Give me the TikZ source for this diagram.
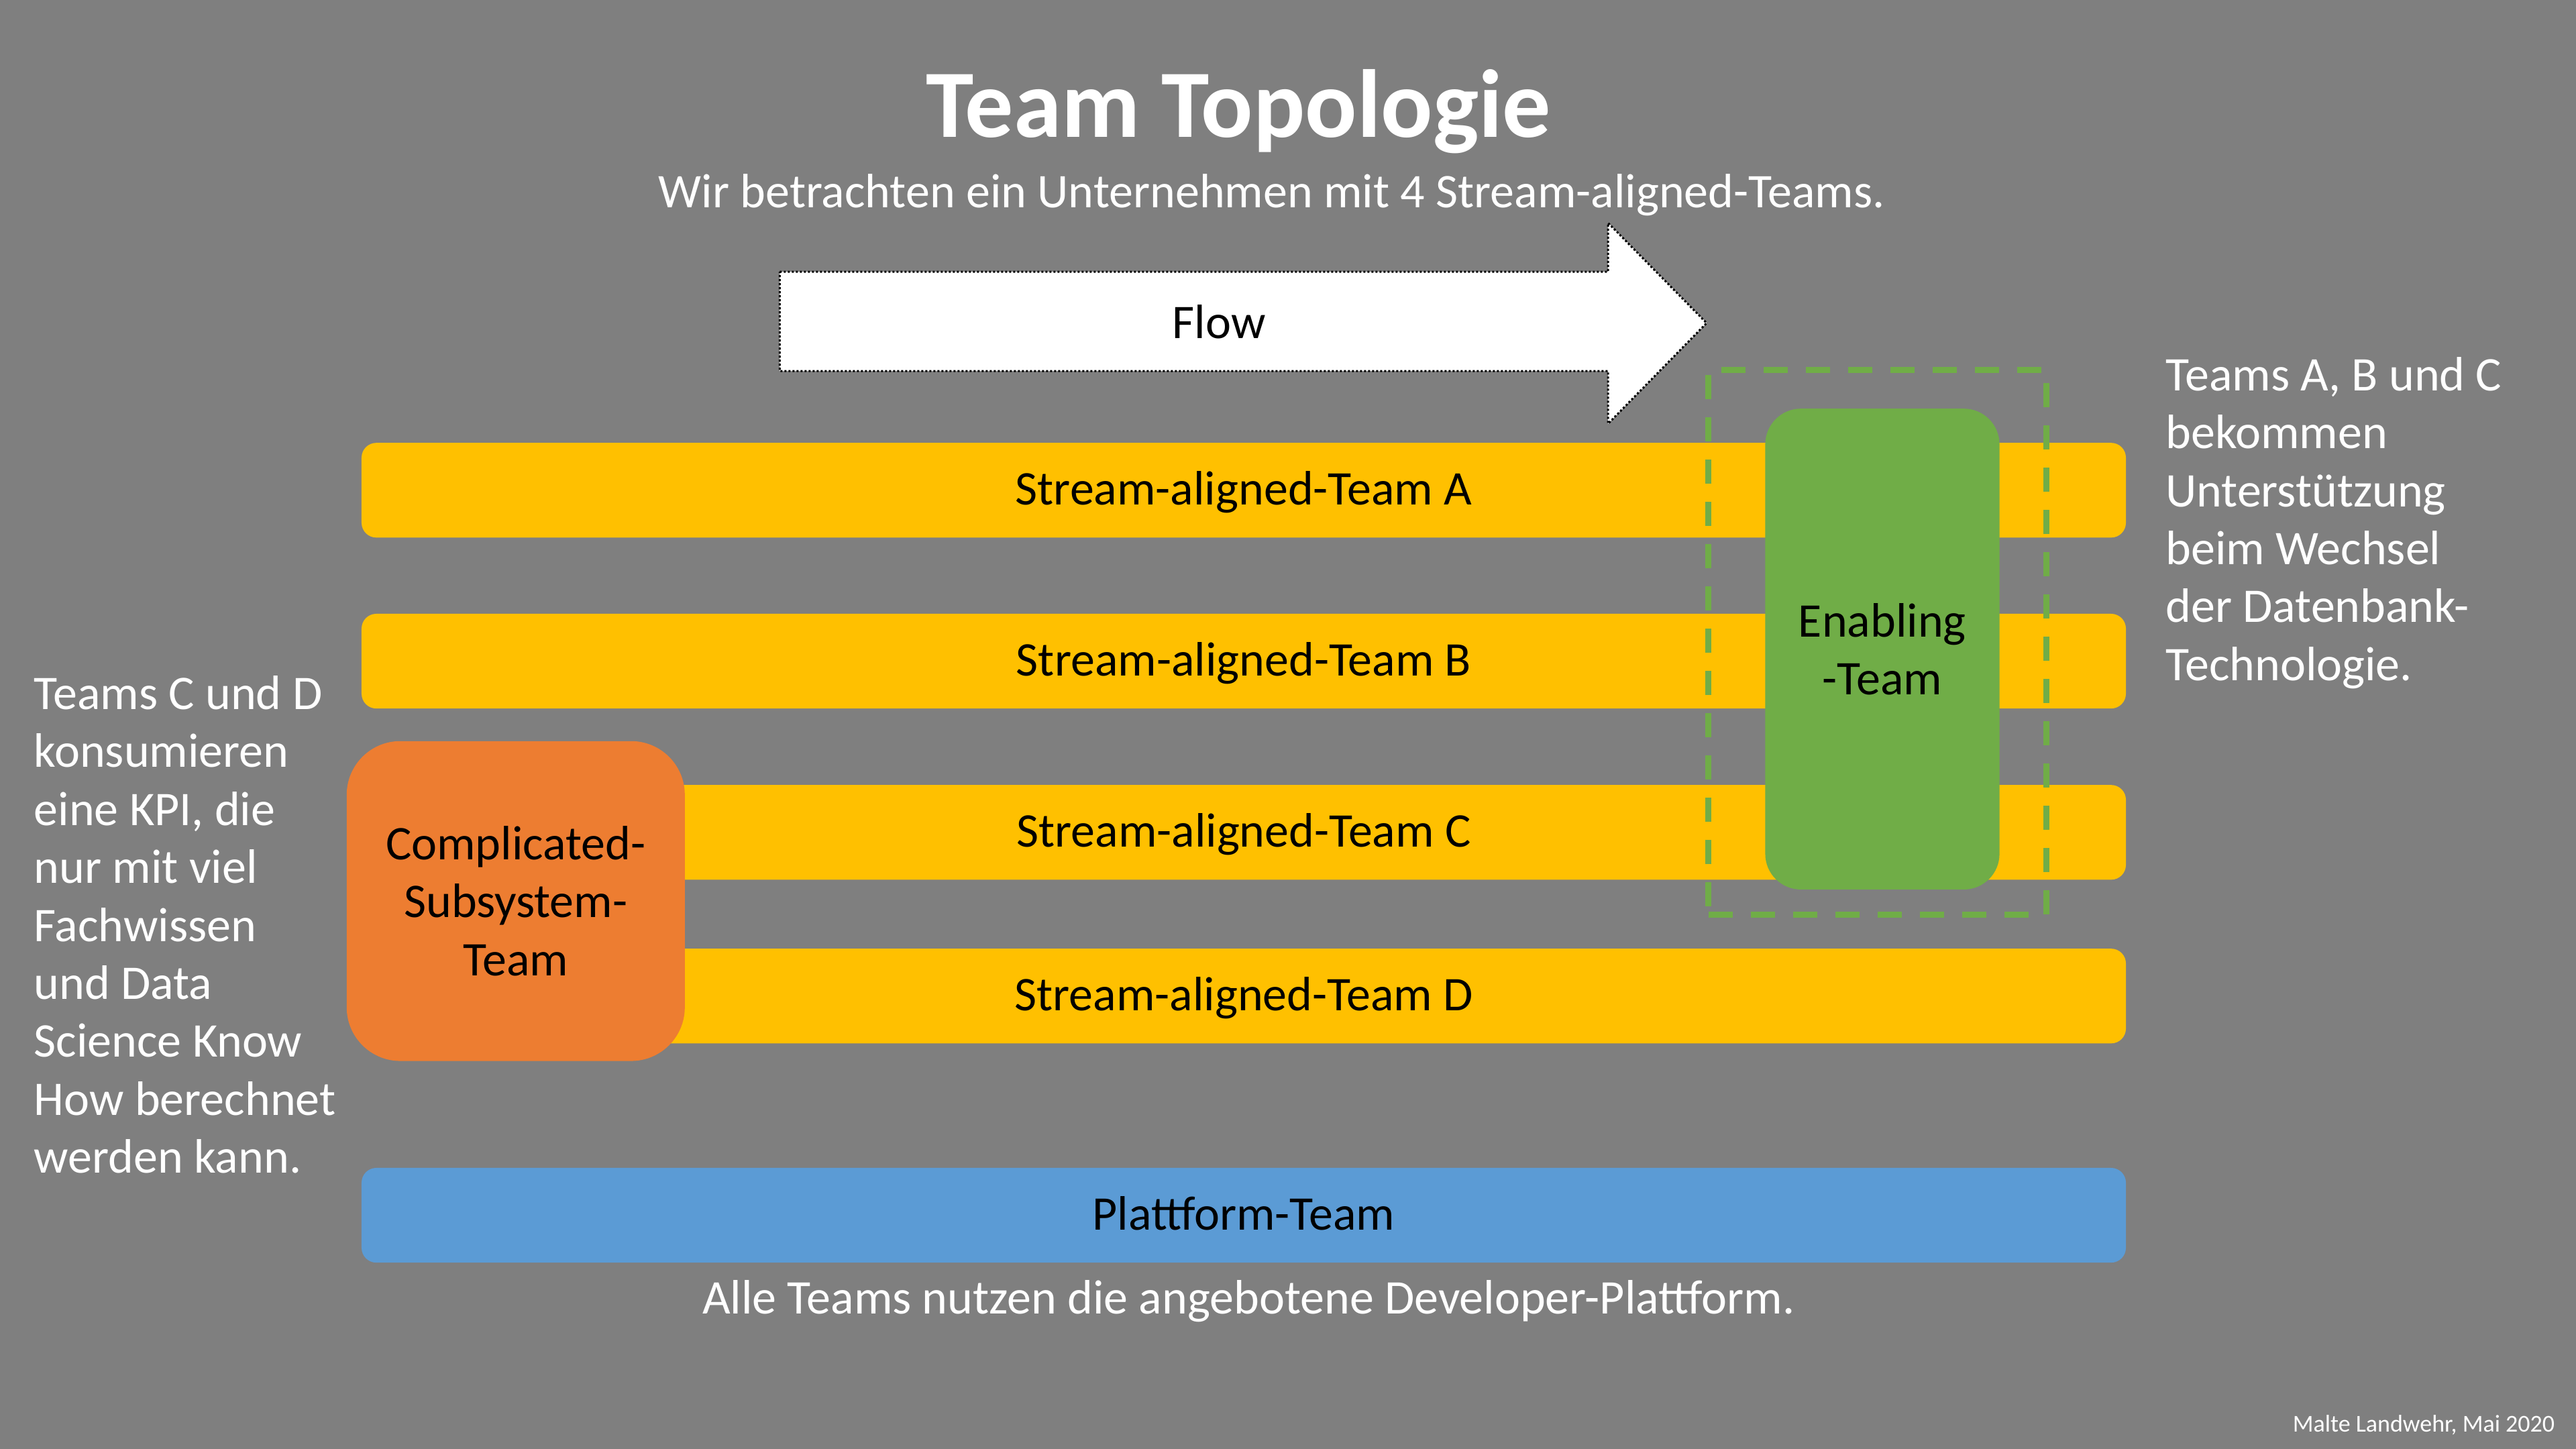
\documentclass[tikz,border=0pt]{standalone}
\usepackage{fontspec}
\setmainfont{Carlito}
\usetikzlibrary{positioning}
\usepackage{xcolor}
\definecolor{slide}{HTML}{7F7F7F}
\definecolor{stream}{HTML}{FFC000}
\definecolor{complicated}{HTML}{ED7D31}
\definecolor{enabling}{HTML}{70AD47}
\definecolor{platform}{HTML}{5B9BD5}

\begin{document}
\begin{tikzpicture}[x=1bp,y=1bp,
      font=\fontsize{18bp}{21.6bp}\selectfont,
      bar/.style={rounded corners=5.5bp,fill=stream,minimum width=657.5bp,minimum height=35.3bp,inner sep=0pt,text height=1.08em,text depth=0pt},
      team/.style={fill=#1,align=center,inner sep=0pt},
      note/.style={text=white,align=left,anchor=base west,inner sep=0pt},
      caption/.style={text=white,anchor=base,inner sep=0pt},
      frame/.style={draw=enabling,line width=2.25bp,dash pattern=on 9bp off 6.75bp,inner sep=0pt},
      flowline/.style={draw=black,fill=white,line width=0.75bp,dash pattern=on 0.75bp off 0.75bp}]

    % slide background
    \fill[slide] (0,0) rectangle (960,540);
    \useasboundingbox (0,0) rectangle (960,540);

    \node[caption,font=\fontsize{36bp}{43bp}\selectfont\bfseries] (title) at (461.5,488.8) {Team Topologie};
    \node[caption] (sub) at (473.9,462.6) {Wir betrachten ein Unternehmen mit 4 Stream-aligned-Teams.};

    % flow arrow
    \draw[flowline] (290.6,438.7) -- (599.3,438.7) -- (599.3,456.9) -- (636,419.6)
      -- (599.3,382.1) -- (599.3,401.7) -- (290.6,401.7) -- cycle;
    \node (flow) at (454.3,420) {Flow};

    % stream-aligned teams
    \node[bar] (A) at (463.5,357.3) {Stream-aligned-Team A};
    \node[bar,below=28bp of A] (B) {Stream-aligned-Team B};
    \node[bar,below=28.1bp of B] (C) {Stream-aligned-Team C};
    \node[bar,below=25.3bp of C] (D) {Stream-aligned-Team D};
    \node[bar,fill=platform,below=46bp of D] (P) {Plattform-Team};
    \node[caption] (usage) at (465.3,50.3) {Alle Teams nutzen die angebotene Developer-Plattform.};

    % enabling team
    \node[frame,minimum width=125.8bp,minimum height=203.1bp] (zone) at (699.6,300.65) {};
    \node[team=enabling,rounded corners=13.3bp,minimum width=87.3bp,minimum height=179.2bp] (ena) at (701.5,298.1) {Enabling\\-Team};

    % complicated subsystem
    \node[team=complicated,rounded corners=20bp,minimum width=126bp,minimum height=119.2bp] (cst) at (192.2,204.2) {Complicated-\\Subsystem-\\Team};

    \node[note] (right) at (806.9,286.4) {Teams A, B und C\\bekommen\\Unterstützung\\beim Wechsel\\der Datenbank-\\Technologie.};
    \node[note] (left) at (12.5,102.8) {Teams C und D\\konsumieren\\eine KPI, die\\nur mit viel\\Fachwissen\\und Data\\Science Know\\How berechnet\\werden kann.};

    \node[caption,anchor=base east,font=\fontsize{9bp}{10.8bp}\selectfont] (credit) at (952.25,6.25) {Malte Landwehr, Mai 2020};
  \end{tikzpicture}
\end{document}
